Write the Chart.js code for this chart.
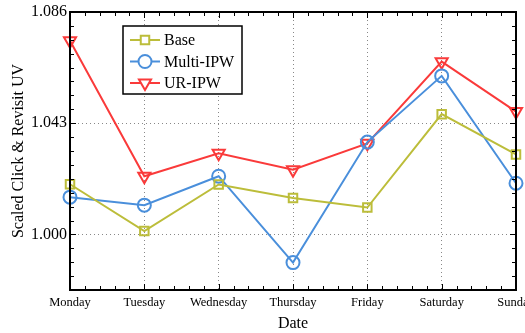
<!DOCTYPE html>
<html>
<head>
<meta charset="utf-8">
<script src="https://cdn.jsdelivr.net/npm/chart.js@4.4.1/dist/chart.umd.min.js"></script>
<style>
  html, body { margin: 0; padding: 0; background: #fff; }
  #wrap { width: 525px; height: 333px; position: relative; }
</style>
</head>
<body>
<div id="wrap"><canvas id="c"></canvas></div>
<script>
// data
var days = ['Monday', 'Tuesday', 'Wednesday', 'Thursday', 'Friday', 'Saturday', 'Sunday'];
var baseVals = [1.0194, 1.0013, 1.0193, 1.0141, 1.0104, 1.0465, 1.0309];
var multiVals = [1.0144, 1.0113, 1.0225, 0.9891, 1.0357, 1.0613, 1.0198];
var urVals = [1.0749, 1.0225, 1.0314, 1.0250, 1.0352, 1.0668, 1.0475];
var yTicks = [1.000, 1.043, 1.086];
var yMin = 0.9785, yMax = 1.086;

var SERIF = '"Liberation Serif", "DejaVu Serif", serif';

// frame, inward minor ticks and boxed legend (matlab look)
var framePlugin = {
  id: 'frame',
  afterDraw: function(chart) {
    var ctx = chart.ctx;
    var a = chart.chartArea;
    var xs = chart.scales.x, ys = chart.scales.y;
    var i, v, p;
    ctx.save();
    ctx.strokeStyle = '#000';
    ctx.lineWidth = 1;
    ctx.beginPath();
    // x ticks, 5 steps per category
    for (i = 0; i <= (days.length - 1) * 5; i++) {
      p = Math.round(xs.getPixelForValue(i / 5)) + 0.5;
      var len = (i % 5 === 0) ? 6 : 4;
      ctx.moveTo(p, a.bottom); ctx.lineTo(p, a.bottom - len);
      ctx.moveTo(p, a.top); ctx.lineTo(p, a.top + len);
    }
    // y ticks, 8 steps per 0.043
    var step = 0.043 / 8;
    for (i = -5; i <= 16; i++) {
      v = 1.000 + i * step;
      if (v < yMin - 1e-6 || v > yMax + 1e-6) continue;
      p = Math.round(ys.getPixelForValue(v)) + 0.5;
      var l2 = (i % 8 === 0) ? 6 : 4;
      ctx.moveTo(a.left, p); ctx.lineTo(a.left + l2, p);
      ctx.moveTo(a.right, p); ctx.lineTo(a.right - l2, p);
    }
    ctx.stroke();
    ctx.lineWidth = 2;
    ctx.strokeRect(a.left, a.top, a.right - a.left, a.bottom - a.top);

    // legend
    var lx = 123, ly = 26, lw = 119, lh = 68;
    ctx.fillStyle = '#fff';
    ctx.fillRect(lx, ly, lw, lh);
    ctx.lineWidth = 1.5;
    ctx.strokeRect(lx, ly, lw, lh);
    var ds = chart.data.datasets;
    ctx.font = '16px ' + SERIF;
    ctx.textBaseline = 'middle';
    for (i = 0; i < ds.length; i++) {
      var yy = 40 + i * 21.5;
      ctx.strokeStyle = ds[i].borderColor;
      ctx.lineWidth = 2;
      ctx.beginPath(); ctx.moveTo(130, yy); ctx.lineTo(160, yy); ctx.stroke();
      ctx.fillStyle = '#fff';
      Chart.helpers.drawPoint(ctx, {
        pointStyle: ds[i].pointStyle,
        rotation: ds[i].pointRotation || 0,
        radius: ds[i].pointRadius,
        borderWidth: 2
      }, 145, yy);
      ctx.fillStyle = '#000';
      ctx.fillText(ds[i].label, 164, yy + 1);
    }
    ctx.restore();
  }
};

new Chart(document.getElementById('c'), {
  type: 'line',
  data: {
    labels: days,
    datasets: [
      {
        label: 'Base',
        data: baseVals,
        borderColor: '#bcbd3a',
        backgroundColor: 'rgba(255,255,255,0)',
        pointStyle: 'rect',
        pointRadius: 6,
        pointBorderWidth: 2,
        borderWidth: 2
      },
      {
        label: 'Multi-IPW',
        data: multiVals,
        borderColor: '#4a8fdb',
        backgroundColor: 'rgba(255,255,255,0)',
        pointStyle: 'circle',
        pointRadius: 6.5,
        pointBorderWidth: 2,
        borderWidth: 2
      },
      {
        label: 'UR-IPW',
        data: urVals,
        borderColor: '#fa3a3a',
        backgroundColor: 'rgba(255,255,255,0)',
        pointStyle: 'triangle',
        pointRotation: 180,
        pointRadius: 7,
        pointBorderWidth: 2,
        borderWidth: 2
      }
    ]
  },
  options: {
    responsive: true,
    maintainAspectRatio: false,
    animation: false,
    layout: { padding: { top: 12, right: 4, left: 0, bottom: 0 } },
    plugins: {
      legend: { display: false },
      tooltip: { enabled: false }
    },
    scales: {
      x: {
        offset: false,
        grid: { color: '#888', lineWidth: 1, drawTicks: false, offset: false },
        border: { display: false, dash: [1, 3] },
        ticks: {
          color: '#000', padding: 5, maxRotation: 0, autoSkip: false,
          font: { family: SERIF, size: 12.5 }
        },
        title: {
          display: true, text: 'Date', color: '#000', padding: { top: 0, bottom: 0 },
          font: { family: SERIF, size: 16 }
        },
        afterFit: function(s) { s.height = 43; s.paddingLeft = 0; s.paddingRight = 0; }
      },
      y: {
        min: yMin,
        max: yMax,
        afterBuildTicks: function(s) {
          s.ticks = yTicks.map(function(v) { return { value: v }; });
        },
        grid: { color: '#888', lineWidth: 1, drawTicks: false },
        border: { display: false, dash: [1, 3] },
        ticks: {
          color: '#000', padding: 3,
          font: { family: SERIF, size: 16 },
          callback: function(v) { return Number(v).toFixed(3); }
        },
        title: {
          display: true, text: 'Scaled Click & Revisit UV', color: '#000', padding: { top: 9, bottom: 2 },
          font: { family: SERIF, size: 16 }
        },
        afterFit: function(s) { s.width = 70; s.paddingTop = 0; s.paddingBottom = 0; }
      }
    }
  },
  plugins: [framePlugin]
});
</script>
</body>
</html>
